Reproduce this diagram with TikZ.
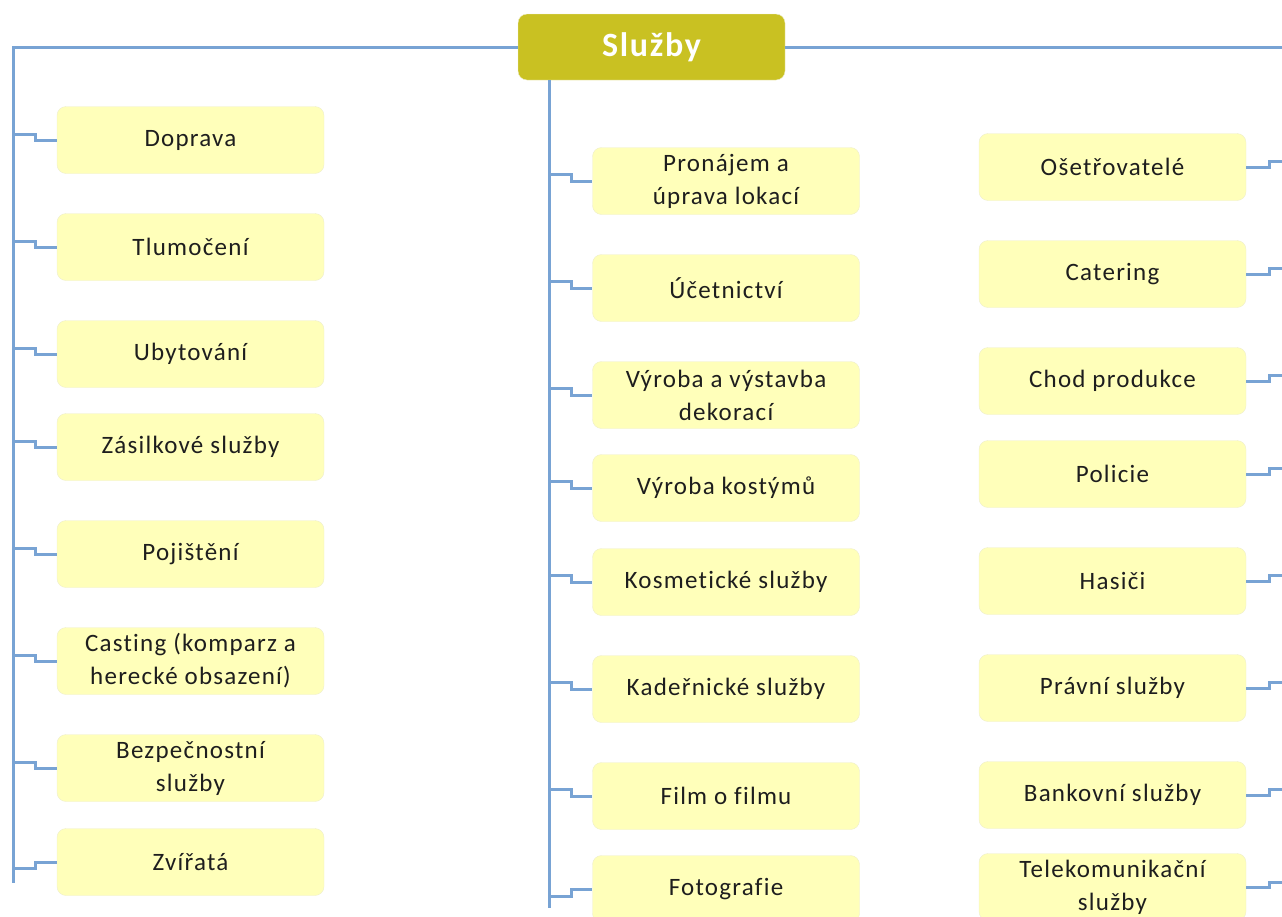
\documentclass[tikz,border=0pt]{standalone}
\usepackage{fontspec}
\setmainfont{Carlito}[LetterSpace=5, Ligatures=NoCommon]
\definecolor{olivova}{RGB}{201,193,34}
\definecolor{zluta}{RGB}{255,255,186}
\definecolor{okraj}{RGB}{238,238,205}
\definecolor{modra}{RGB}{120,163,212}
\definecolor{pismo}{RGB}{30,30,30}
\begin{document}
\begin{tikzpicture}[x=1pt, y=-1pt, font=\fontsize{25}{33}\selectfont, text=pismo,
	polozka/.style={draw=okraj, fill=zluta, rounded corners=9pt, minimum width=267pt, minimum height=67pt, align=center, inner sep=0pt},
	koren/.style={draw=okraj, fill=olivova, rounded corners=9pt, minimum width=267pt, minimum height=66pt, text=white, font=\fontsize{34}{40}\selectfont\bfseries},
	spoj/.style={draw=modra, line width=3pt, line join=miter}]
	\useasboundingbox (0, 0) rectangle (1282, 916);
	
	% Kořen
	\node[koren] (root) at (651.5, 47) {Služby};
	\coordinate (lkmen) at (13, 883);
	\coordinate (mkmen) at (549, 908);
	\coordinate (pkmen) at (1282, 47);
	\draw[spoj] (root.west) -| (lkmen);
	\draw[spoj] (root.east) -- (pkmen);
	\draw[spoj] (root.south -| mkmen) -- (mkmen);
	
	% Levý sloupec
	\node[polozka] (doprava) at (190.5, 140) {Doprava};
	\node[polozka] (tlumoceni) at (190.5, 247) {Tlumočení};
	\node[polozka] (ubytovani) at (190.5, 354) {Ubytování};
	\node[polozka] (zasilky) at (190.5, 447) {Zásilkové služby};
	\node[polozka] (pojisteni) at (190.5, 554) {Pojištění};
	\node[polozka] (casting) at (190.5, 661) {Casting (komparz a\\herecké obsazení)};
	\node[polozka] (bezpecnost) at (190.5, 768) {Bezpečnostní\\služby};
	\node[polozka] (zvirata) at (190.5, 862) {Zvířatá};
	\coordinate (l1) at (13, 134);
	\coordinate (l2) at (13, 241);
	\coordinate (l3) at (13, 348);
	\coordinate (l4) at (13, 441);
	\coordinate (l5) at (13, 548);
	\coordinate (l6) at (13, 655);
	\coordinate (l7) at (13, 762);
	\coordinate (l8) at (13, 868);
	\draw[spoj] (l1) -- ++(22, 0) |- (doprava.west);
	\draw[spoj] (l2) -- ++(22, 0) |- (tlumoceni.west);
	\draw[spoj] (l3) -- ++(22, 0) |- (ubytovani.west);
	\draw[spoj] (l4) -- ++(22, 0) |- (zasilky.west);
	\draw[spoj] (l5) -- ++(22, 0) |- (pojisteni.west);
	\draw[spoj] (l6) -- ++(22, 0) |- (casting.west);
	\draw[spoj] (l7) -- ++(22, 0) |- (bezpecnost.west);
	\draw[spoj] (l8) -- ++(22, 0) |- (zvirata.west);
	
	% Prostřední sloupec
	\node[polozka] (pronajem) at (726, 181) {Pronájem a\\úprava lokací};
	\node[polozka] (ucetnictvi) at (726, 288) {Účetnictví};
	\node[polozka] (dekorace) at (726, 395) {Výroba a výstavba\\dekorací};
	\node[polozka] (kostymy) at (726, 488) {Výroba kostýmů};
	\node[polozka] (kosmetika) at (726, 582) {Kosmetické služby};
	\node[polozka] (kadernik) at (726, 689) {Kadeřnické služby};
	\node[polozka] (filmofilmu) at (726, 796) {Film o filmu};
	\node[polozka] (fotografie) at (726, 889) {Fotografie};
	\coordinate (m1) at (549, 174);
	\coordinate (m2) at (549, 281);
	\coordinate (m3) at (549, 388);
	\coordinate (m4) at (549, 481);
	\coordinate (m5) at (549, 575);
	\coordinate (m6) at (549, 682);
	\coordinate (m7) at (549, 789);
	\coordinate (m8) at (549, 896);
	\draw[spoj] (m1) -- ++(22, 0) |- (pronajem.west);
	\draw[spoj] (m2) -- ++(22, 0) |- (ucetnictvi.west);
	\draw[spoj] (m3) -- ++(22, 0) |- (dekorace.west);
	\draw[spoj] (m4) -- ++(22, 0) |- (kostymy.west);
	\draw[spoj] (m5) -- ++(22, 0) |- (kosmetika.west);
	\draw[spoj] (m6) -- ++(22, 0) |- (kadernik.west);
	\draw[spoj] (m7) -- ++(22, 0) |- (filmofilmu.west);
	\draw[spoj] (m8) -- ++(22, 0) |- (fotografie.west);
	
	% Pravý sloupec
	\node[polozka] (osetrovatele) at (1112.5, 167) {Ošetřovatelé};
	\node[polozka] (catering) at (1112.5, 274) {Catering};
	\node[polozka] (chod) at (1112.5, 381) {Chod produkce};
	\node[polozka] (policie) at (1112.5, 474) {Policie};
	\node[polozka] (hasici) at (1112.5, 581) {Hasiči};
	\node[polozka] (pravni) at (1112.5, 688) {Právní služby};
	\node[polozka] (bankovni) at (1112.5, 795) {Bankovní služby};
	\node[polozka] (telekom) at (1112.5, 887) {Telekomunikační\\služby};
	\coordinate (p1) at (1282, 161);
	\coordinate (p2) at (1282, 268);
	\coordinate (p3) at (1282, 375);
	\coordinate (p4) at (1282, 468);
	\coordinate (p5) at (1282, 575);
	\coordinate (p6) at (1282, 682);
	\coordinate (p7) at (1282, 789);
	\coordinate (p8) at (1282, 882);
	\draw[spoj] (osetrovatele.east) -- ++(23, 0) |- (p1);
	\draw[spoj] (catering.east) -- ++(23, 0) |- (p2);
	\draw[spoj] (chod.east) -- ++(23, 0) |- (p3);
	\draw[spoj] (policie.east) -- ++(23, 0) |- (p4);
	\draw[spoj] (hasici.east) -- ++(23, 0) |- (p5);
	\draw[spoj] (pravni.east) -- ++(23, 0) |- (p6);
	\draw[spoj] (bankovni.east) -- ++(23, 0) |- (p7);
	\draw[spoj] (telekom.east) -- ++(23, 0) |- (p8);
	
\end{tikzpicture}
\end{document}
